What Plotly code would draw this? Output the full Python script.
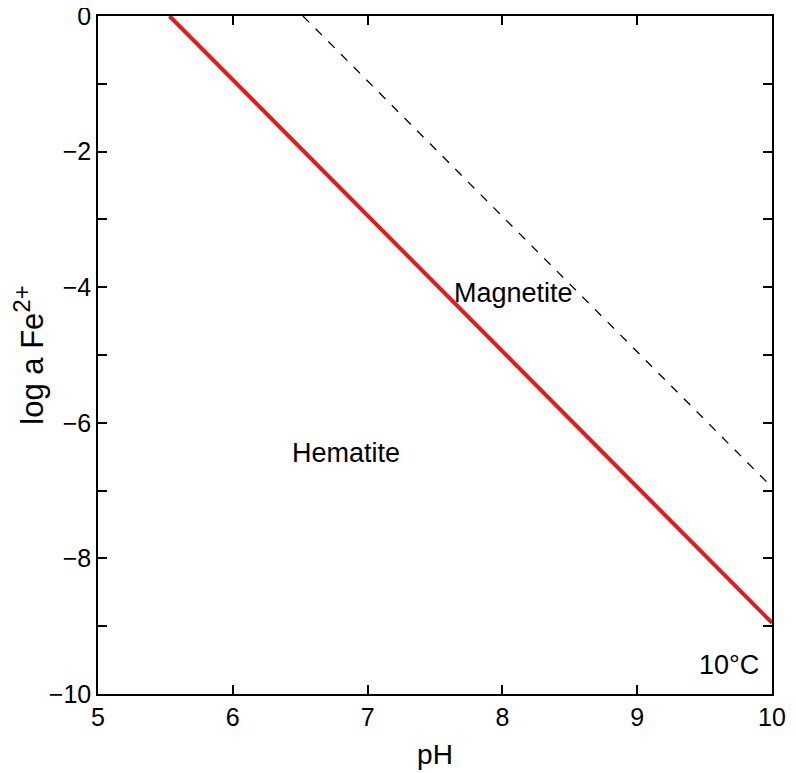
import plotly.graph_objects as go

# hematite / magnetite boundary (red) and dashed line
ph_boundary = [5.53, 10.0]
loga_boundary = [0.0, -8.95]
ph_dashed = [6.52, 10.0]
loga_dashed = [0.0, -6.95]

# region labels
label_text = ["Magnetite", "Hematite", "10°C"]
label_ph = [8.08, 6.84, 9.68]
label_loga = [-4.09, -6.45, -9.57]

x_ticks = [5, 6, 7, 8, 9, 10]
y_ticks = [0, -1, -2, -3, -4, -5, -6, -7, -8, -9, -10]
y_ticktext = ["0", " ", "−2", " ", "−4", " ", "−6", " ", "−8", " ", "−10"]

fnt = "Liberation Sans, Arial, sans-serif"

fig = go.Figure()
fig.add_trace(go.Scatter(x=ph_dashed, y=loga_dashed, mode="lines",
                         line=dict(color="black", width=1.3, dash="dash")))
fig.add_trace(go.Scatter(x=ph_boundary, y=loga_boundary, mode="lines",
                         line=dict(color="#e41a1c", width=4)))

for t, x, y in zip(label_text, label_ph, label_loga):
    fig.add_annotation(x=x, y=y, text=t, showarrow=False,
                       font=dict(size=27, color="black", family=fnt))

fig.update_xaxes(range=[5, 10], tickvals=x_ticks, ticks="inside", ticklen=9,
                 tickwidth=1.5, tickcolor="black", showline=True, linecolor="black",
                 linewidth=1.5, mirror="ticks", showgrid=False, zeroline=False,
                 automargin=False, ticklabeloverflow="allow",
                 tickfont=dict(size=25, family=fnt, color="black"),
                 title=dict(text="pH", font=dict(size=28, family=fnt, color="black")))
fig.update_yaxes(range=[-10, 0], tickvals=y_ticks, ticktext=y_ticktext, ticks="inside",
                 ticklen=9, tickwidth=1.5, tickcolor="black", showline=True,
                 linecolor="black", linewidth=1.5, mirror="ticks", showgrid=False,
                 zeroline=False, automargin=False, ticklabeloverflow="allow",
                 tickfont=dict(size=25, family=fnt, color="black"),
                 title=dict(text="log a Fe<sup><span style='font-size:24px'>2+</span></sup>",
                            font=dict(size=31, family=fnt, color="black")))

# page body has an 8px margin, so the figure is a bit smaller than the window;
# a little extra right margin keeps the last x tick label ("10") from being clipped
fig.update_layout(width=788, height=765, showlegend=False,
                  plot_bgcolor="white", paper_bgcolor="white",
                  margin=dict(l=90, r=24, t=8, b=79))

fig.write_html("out.html")
